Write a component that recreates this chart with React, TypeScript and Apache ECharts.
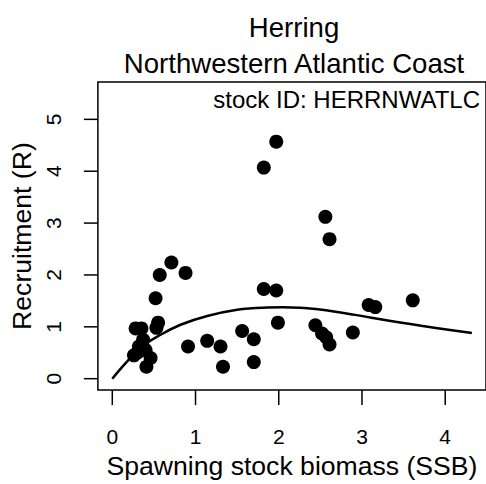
import React, { useEffect, useRef } from "react";
import * as echarts from "echarts";

const titleLines = ["Herring", "Northwestern Atlantic Coast"];
const stockLabel = "stock ID: HERRNWATLC";
const xAxisTitle = "Spawning stock biomass (SSB)";
const yAxisTitle = "Recruitment (R)";

const xTicks = [0, 1, 2, 3, 4];
const yTicks = [0, 1, 2, 3, 4, 5];

const ssb = [
  1.97, 1.82, 2.56, 2.61, 0.71, 0.57, 0.88, 0.52, 1.82, 1.97, 3.08, 3.16, 3.61,
  1.99, 0.55, 0.53, 0.28, 0.35, 2.44, 2.52, 2.57, 2.61, 2.89, 1.56, 1.70, 1.14,
  1.30, 0.91, 1.33, 1.70, 0.41, 0.46, 0.37, 0.32, 0.26, 0.40, 0.30,
];
const recruitment = [
  4.57, 4.07, 3.12, 2.69, 2.24, 2.0, 2.04, 1.55, 1.73, 1.7, 1.42, 1.38, 1.51,
  1.08, 1.08, 0.98, 0.97, 0.97, 1.03, 0.87, 0.8, 0.66, 0.89, 0.92, 0.76, 0.73,
  0.62, 0.62, 0.23, 0.32, 0.23, 0.4, 0.75, 0.62, 0.45, 0.55, 0.5,
];

const curveSSB = [0, 0.16, 0.355, 0.55, 0.82, 1.14, 1.5, 1.81, 2.05, 2.25, 2.52, 2.92, 3.31, 3.71, 4.32];
const curveR = [0, 0.3, 0.62, 0.82, 1.04, 1.21, 1.33, 1.37, 1.375, 1.37, 1.33, 1.23, 1.12, 1.02, 0.88];

const X_MIN = -0.173;
const X_MAX = 4.49;
const Y_MIN = -0.22;
const Y_MAX = 5.72;

const FONT = "'Liberation Sans', Arial, sans-serif";

export default function App() {
  const ref = useRef<HTMLDivElement>(null);
  useEffect(() => {
    if (!ref.current) return;
    const chart = echarts.init(ref.current, undefined, { renderer: "svg" });
    const points = ssb.map((x, i) => [x, recruitment[i]]);
    const curve = curveSSB.map((x, i) => [x, curveR[i]]);
    const tickStyle = { stroke: "#000", lineWidth: 1.5 };
    chart.setOption({
      animation: false,
      backgroundColor: "#ffffff",
      textStyle: { fontFamily: FONT },
      grid: {
        left: 96,
        top: 82,
        right: -3,
        bottom: 93,
        show: true,
        borderColor: "#000",
        borderWidth: 1.5,
        backgroundColor: "transparent",
      },
      xAxis: {
        type: "value",
        min: X_MIN,
        max: X_MAX,
        splitLine: { show: false },
        axisLine: { show: false, onZero: false },
        axisTick: { show: false },
        axisLabel: {
          customValues: xTicks,
          margin: 36,
          fontSize: 21,
          color: "#000",
          fontFamily: FONT,
        },
        name: xAxisTitle,
        nameLocation: "middle",
        nameGap: 60,
        nameTextStyle: { fontSize: 26.6, color: "#000", fontFamily: FONT },
      },
      yAxis: {
        type: "value",
        min: Y_MIN,
        max: Y_MAX,
        splitLine: { show: false },
        axisLine: { show: false, onZero: false },
        axisTick: { show: false },
        axisLabel: {
          customValues: yTicks,
          rotate: 90,
          margin: 34,
          fontSize: 21,
          color: "#000",
          fontFamily: FONT,
        },
        name: yAxisTitle,
        nameLocation: "middle",
        nameRotate: 90,
        nameGap: 58,
        nameTextStyle: { fontSize: 26.6, color: "#000", fontFamily: FONT },
      },
      graphic: [
        {
          type: "text",
          x: 294,
          y: 27,
          style: {
            text: titleLines[0],
            fontSize: 27.6,
            fontFamily: FONT,
            fill: "#000",
            textAlign: "center",
            textVerticalAlign: "middle",
          },
        },
        {
          type: "text",
          x: 294,
          y: 63,
          style: {
            text: titleLines[1],
            fontSize: 27.6,
            fontFamily: FONT,
            fill: "#000",
            textAlign: "center",
            textVerticalAlign: "middle",
          },
        },
        {
          type: "text",
          x: 480,
          y: 99,
          style: {
            text: stockLabel,
            fontSize: 24,
            fontFamily: FONT,
            fill: "#000",
            textAlign: "right",
            textVerticalAlign: "middle",
          },
        },
      ],
      series: [
        {
          type: "custom",
          coordinateSystem: "cartesian2d",
          clip: false,
          silent: true,
          data: xTicks.map((v) => [v, Y_MIN]),
          renderItem: (params: any, api: any) => {
            const p = api.coord([api.value(0), api.value(1)]);
            return {
              type: "line",
              shape: { x1: p[0], y1: p[1], x2: p[0], y2: p[1] + 15 },
              style: tickStyle,
            };
          },
        },
        {
          type: "custom",
          coordinateSystem: "cartesian2d",
          clip: false,
          silent: true,
          data: yTicks.map((v) => [X_MIN, v]),
          renderItem: (params: any, api: any) => {
            const p = api.coord([api.value(0), api.value(1)]);
            return {
              type: "line",
              shape: { x1: p[0], y1: p[1], x2: p[0] - 14, y2: p[1] },
              style: tickStyle,
            };
          },
        },
        {
          type: "scatter",
          data: points,
          symbol: "circle",
          symbolSize: 14,
          itemStyle: { color: "#000", opacity: 1 },
          silent: true,
        },
        {
          type: "line",
          data: curve,
          smooth: 0.4,
          showSymbol: false,
          lineStyle: { color: "#000", width: 2.5 },
          silent: true,
        },
      ],
    });
    return () => chart.dispose();
  }, []);
  return (
    <div
      ref={ref}
      style={{ position: "fixed", left: 0, top: 0, width: 486, height: 484, background: "#fff" }}
    />
  );
}
